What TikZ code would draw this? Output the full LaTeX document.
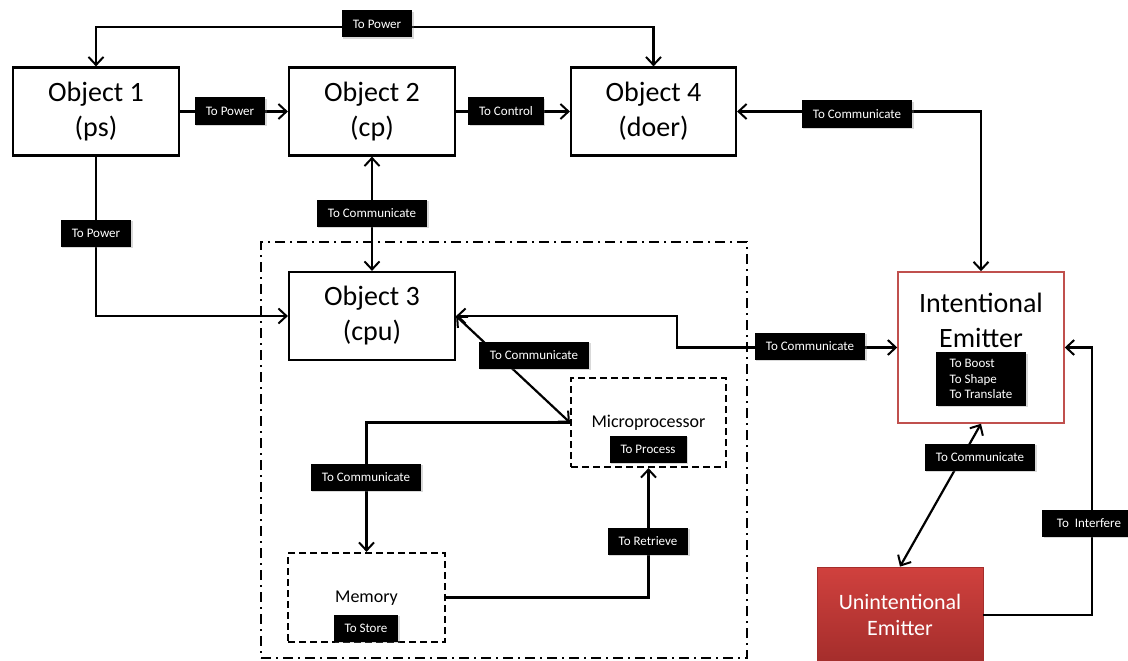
\documentclass[tikz,border=0pt]{standalone}
\usepackage{fontspec}
\setmainfont{Carlito}
\usetikzlibrary{arrows.meta,shadows}
\definecolor{iered}{HTML}{C0504D}
\definecolor{uetop}{HTML}{D0413E}
\definecolor{uebot}{HTML}{A42D2B}
\tikzset{
  objbox/.style={draw, line width=2.2pt, fill=white, minimum width=166pt, minimum height=88pt, align=center, font=\fontsize{28}{35}\selectfont},
  subbox/.style={draw, line width=2.2pt, dash pattern=on 7pt off 4pt, fill=white, minimum width=156pt, minimum height=89pt},
  zone/.style={draw, line width=2.2pt, dash pattern=on 10pt off 5pt on 2pt off 5pt, minimum width=486pt, minimum height=416pt},
  lbl/.style={fill=black, text=white, font=\fontsize{13}{15.5}\selectfont, inner xsep=11pt, inner ysep=0pt, minimum height=27pt,
     drop shadow={shadow xshift=1.5pt, shadow yshift=-1.5pt, opacity=0.3, fill=gray}},
  conn/.style={line width=2.2pt, line join=miter},
  tip/.style={-{Straight Barb[length=8pt,width=15pt,line width=2pt]}},
  biptip/.style={{Straight Barb[length=8pt,width=15pt,line width=2pt]}-{Straight Barb[length=8pt,width=15pt,line width=2pt]}},
}
\begin{document}
\begin{tikzpicture}[x=1pt,y=-1pt]
\useasboundingbox (0,0) rectangle (1128,661);
% container
\node[zone] (zone) at (504,450) {};
% main boxes
\node[objbox] (o1) at (96,111.5) {Object 1\\(ps)};
\node[objbox] (o2) at (372,111.5) {Object 2\\(cp)};
\node[objbox, minimum width=165pt] (o4) at (653.5,111.5) {Object 4\\(doer)};
\node[objbox] (o3) at (372,316) {Object 3\\(cpu)};
\node[subbox, minimum width=155pt] (micro) at (648.5,422.5) {};
\node[font=\fontsize{18}{22}\selectfont] (microtext) at (648.5,423) {Microprocessor};
\node[subbox, minimum width=157pt] (mem) at (366.5,597.5) {};
\node[font=\fontsize{18}{22}\selectfont] (memtext) at (366.5,598) {Memory};
\node[draw=iered, line width=1.5pt, fill=white, minimum width=166pt, minimum height=151pt] (ie) at (981,347.5) {};
\node[align=center, font=\fontsize{28}{35}\selectfont] (ietext) at (981,320) {Intentional\\Emitter};
\node[top color=uetop, bottom color=uebot, draw=uebot, line width=0.8pt, minimum width=166pt, minimum height=96pt,
      text=white, align=center, font=\fontsize{22}{26}\selectfont] (ue) at (900,615) {Unintentional\\Emitter};
% connectors
\coordinate (topjog) at (377,27);
\draw[conn,biptip] (o1.north) |- (topjog) -| (o4.north);
\draw[conn,tip] (o1.east) -- (o2.west);
\draw[conn,tip] (o2.east) -- (o4.west);
\draw[conn,biptip] (o4.east) -| (ie.north);
\draw[conn,biptip] (o2.south) -- (o3.north);
\draw[conn,tip] (o1.south) |- (o3.west);
\coordinate (jog) at (677,332);
\draw[conn,biptip] (o3.east) -| (jog) |- (ie.west);
\draw[conn,biptip] (o3.east) -- (micro.west);
\draw[conn,tip] (micro.west) -| (mem.north);
\draw[conn,tip] (mem.east) -| (micro.south);
\draw[conn,biptip] (ie.south) -- (ue.north);
\coordinate (intf) at (1092,480);
\draw[conn,tip] (ue.east) -| (intf) |- (ie.east);
% labels
\node[lbl] (lTop) at (377,24) {To Power};
\node[lbl] (lA) at (230,111) {To Power};
\node[lbl] (lB) at (506,111) {To Control};
\node[lbl] (lC) at (857,114) {To Communicate};
\node[lbl] (lD) at (96,233) {To Power};
\node[lbl] (lE) at (372,213) {To Communicate};
\node[lbl] (lF) at (810,346) {To Communicate};
\node[lbl] (lG) at (534,355) {To Communicate};
\node[lbl] (lH) at (366,477) {To Communicate};
\node[lbl] (lI) at (648,541) {To Retrieve};
\node[lbl] (lJ) at (648,449) {To Process};
\node[lbl] (lK) at (366,628) {To Store};
\node[lbl, align=left, inner ysep=7pt, minimum width=90pt] (lL) at (981,379) {To Boost\\To Shape\\To Translate};
\node[lbl] (lM) at (980,457) {To Communicate};
\node[lbl, minimum width=94pt] (lN) at (1089,523) {To\ \ Interfere};
\end{tikzpicture}
\end{document}
